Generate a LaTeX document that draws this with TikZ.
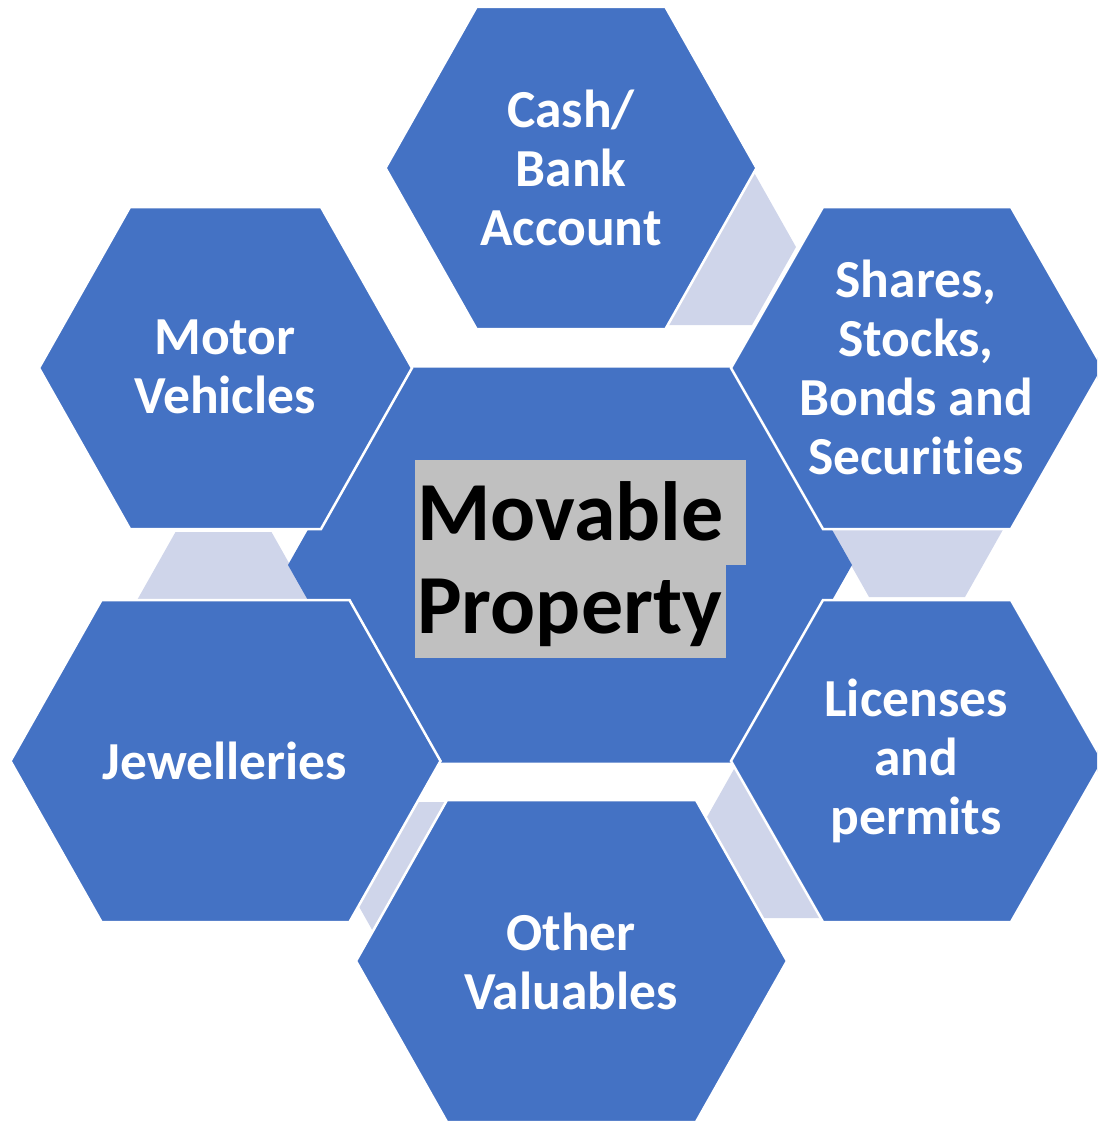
\documentclass[tikz,border=0pt]{standalone}
\usepackage{fontspec}
\setmainfont{Carlito}[Ligatures=NoCommon]
\definecolor{hexblue}{HTML}{4472C4}
\definecolor{connfill}{HTML}{CFD5EA}
\definecolor{hlgrey}{HTML}{C0C0C0}
% #1 style, #2 cx, #3 cy, #4 half width, #5 half height, #6 corner inset
\newcommand\hexshape[6]{%
  \path[#1] (#2-#4,#3) -- (#2-#4+#6,#3-#5) -- (#2+#4-#6,#3-#5) -- (#2+#4,#3)
    -- (#2+#4-#6,#3+#5) -- (#2-#4+#6,#3+#5) -- cycle;}
\tikzset{
  outerhex/.style={fill=hexblue, draw=white, line width=2.5pt, line join=miter},
  centerhex/.style={fill=hexblue},
  connhex/.style={fill=connfill},
  lbl/.style={text=white, font=\bfseries\fontsize{53.5}{59}\selectfont, align=center, inner sep=0pt},
  ctrlbl/.style={text=black, font=\bfseries\fontsize{84}{93}\selectfont, inner sep=0pt, anchor=base west},
}
\begin{document}
\begin{tikzpicture}[x=1pt, y=-1pt]
\useasboundingbox (0,0) rectangle (1097,1121);
\clip (0,0) rectangle (1097,1121);
% connector hexagons (light)
\hexshape{connhex}{704}{247}{92}{78}{44}
\hexshape{connhex}{917}{519}{92}{78}{44}
\hexshape{connhex}{786}{840}{92}{78}{44}
\hexshape{connhex}{436}{880}{92}{78}{44}
\hexshape{connhex}{223.5}{610}{92}{78}{44}
% centre hexagon
\hexshape{centerhex}{570}{565}{282}{197.5}{112}
% outer hexagons
\hexshape{outerhex}{571}{168}{185.5}{161}{91}
\hexshape{outerhex}{917}{368}{186}{161}{92}
\hexshape{outerhex}{917}{761}{186}{161}{92}
\hexshape{outerhex}{571.5}{961}{215.5}{161}{91}
\hexshape{outerhex}{225.5}{761}{215}{161}{91}
\hexshape{outerhex}{225.5}{368}{186.5}{161}{91}
% centre label with highlight
\fill[hlgrey] (415,460) rectangle (746,565);
\fill[hlgrey] (415,565) rectangle (726,658);
\node[ctrlbl] (movable) at (417,540) {Movable};
\node[ctrlbl] (property) at (417,633) {Property};
% outer labels
\node[lbl] (cash) at (571,168) {Cash/\\Bank\\Account};
\node[lbl] (shares) at (916,367) {Shares,\\Stocks,\\Bonds and\\Securities};
\node[lbl] (licenses) at (916,761) {Licenses\\and\\permits};
\node[lbl] (other) at (571,961) {Other\\Valuables};
\node[lbl] (jewel) at (225,761) {Jewelleries};
\node[lbl] (motor) at (225,367) {Motor\\Vehicles};
\end{tikzpicture}
\end{document}
